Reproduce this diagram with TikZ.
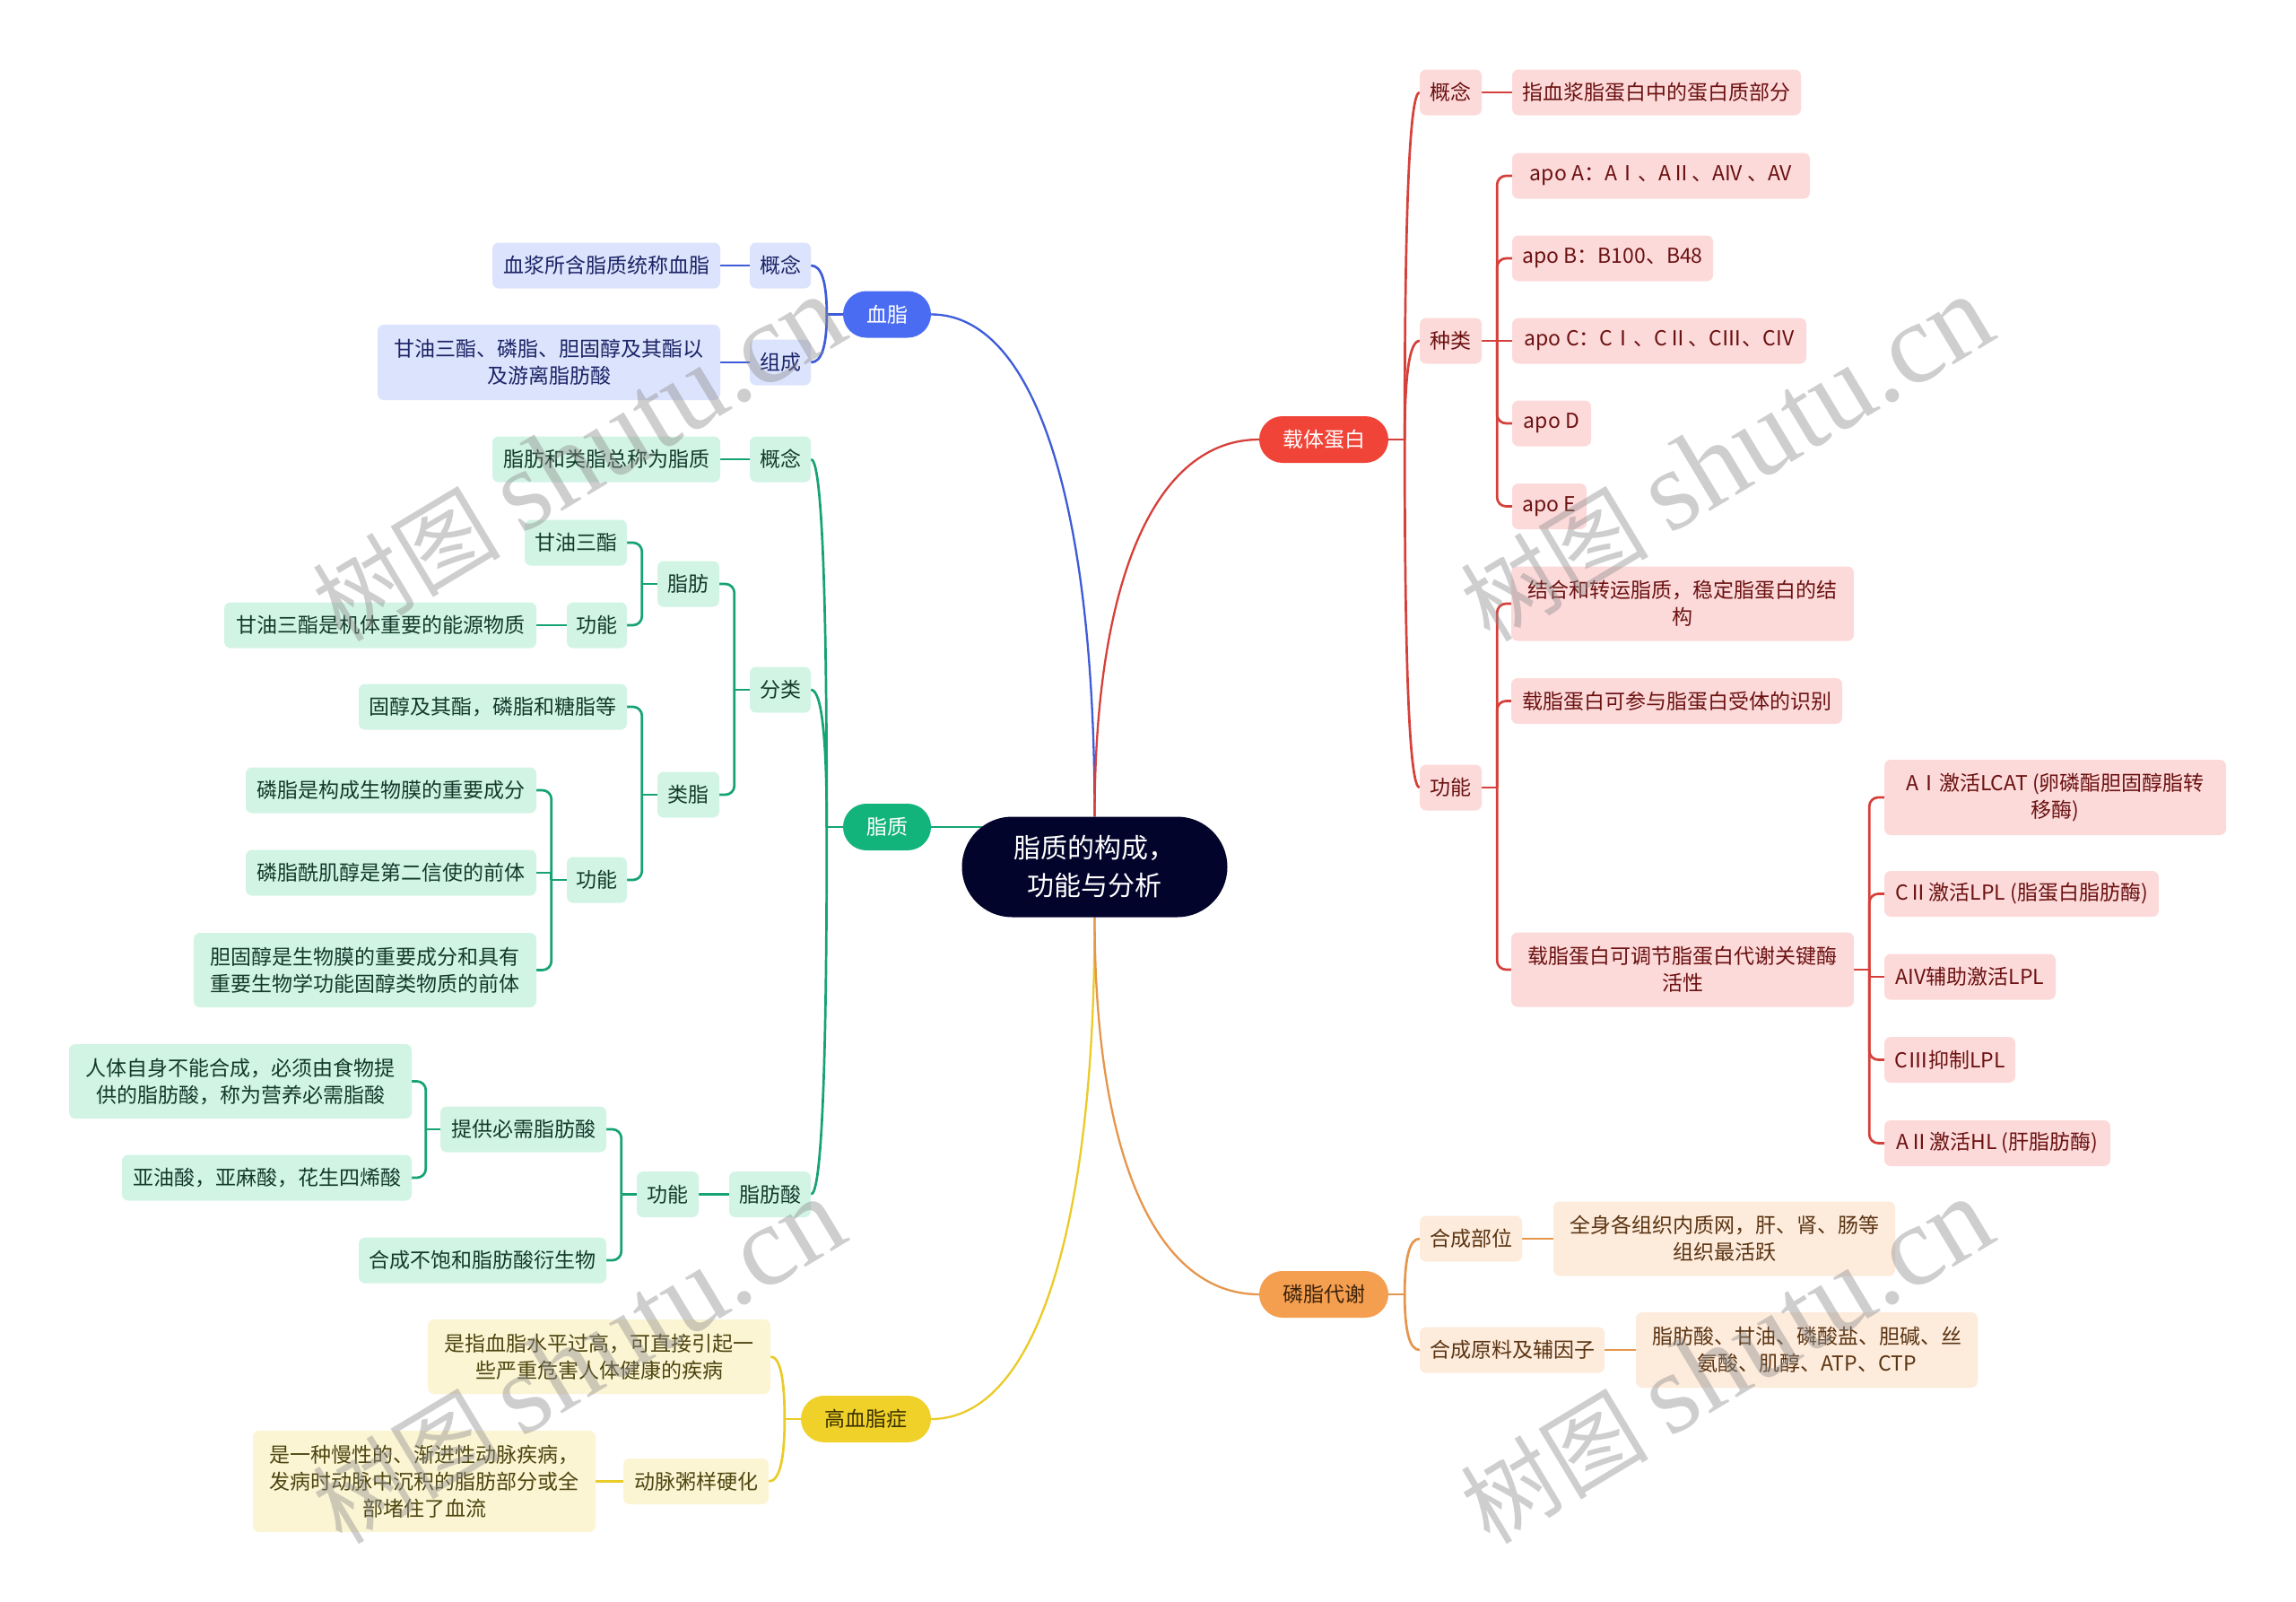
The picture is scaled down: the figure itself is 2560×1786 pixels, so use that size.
\documentclass[tikz,border=0pt]{standalone}
\usepackage{fontspec}
\setmainfont{Noto Sans CJK SC}
\newfontfamily\wmserif{Liberation Serif}
\usetikzlibrary{calc,backgrounds}
\definecolor{rootc}{HTML}{03042C}
\definecolor{bpill}{HTML}{4A6CF2}\definecolor{bline}{HTML}{3E5BD8}\definecolor{bfill}{HTML}{DCE3FC}\definecolor{btext}{HTML}{1B2466}
\definecolor{gpill}{HTML}{12B47C}\definecolor{gline}{HTML}{16A374}\definecolor{gfill}{HTML}{D2F4E5}\definecolor{gtext}{HTML}{123A2B}
\definecolor{rpill}{HTML}{F04438}\definecolor{rline}{HTML}{D6403A}\definecolor{rfill}{HTML}{FDDADA}\definecolor{rtext}{HTML}{6B1111}
\definecolor{opill}{HTML}{F49E4F}\definecolor{oline}{HTML}{E6964C}\definecolor{ofill}{HTML}{FDEBDC}\definecolor{otext}{HTML}{5A3412}\definecolor{opt}{HTML}{3D230A}
\definecolor{ypill}{HTML}{F0D12A}\definecolor{yline}{HTML}{EBCB28}\definecolor{yfill}{HTML}{FCF5D3}\definecolor{ytext}{HTML}{4D4510}\definecolor{ypt}{HTML}{3A3000}
% level-1 curve from root anchor to pill anchor
\newcommand{\Lone}[3]{\draw[lone,#3] (#1) .. controls ($(#1)!0.63!(#1 |- #2)$) and ($(#2)!0.63!(#2 -| #1)$) .. (#2);}
% level-2 curve from junction to child
\newcommand{\Ltwo}[3]{\draw[con,#3] (#1) .. controls ($(#1)!0.667!(#1 |- #2)$) and ($(#2)!0.667!(#1 |- #2)$) .. (#2);}
% level-3 bracket from junction to child
\newcommand{\Lthree}[3]{\draw[con,#3,rounded corners=10pt] (#1) |- (#2);}
\begin{document}
\begin{tikzpicture}[x=1pt,y=-1pt,
  box/.style={rounded corners=7pt, inner sep=0pt, align=center, font=\fontsize{23}{30}\selectfont, minimum height=51pt},
  bl/.style={box, fill=bfill, text=btext},
  gl/.style={box, fill=gfill, text=gtext},
  rl/.style={box, fill=rfill, text=rtext},
  ol/.style={box, fill=ofill, text=otext},
  yl/.style={box, fill=yfill, text=ytext},
  pill/.style={rounded corners=26pt, inner sep=0pt, align=center, font=\fontsize{23}{30}\selectfont, minimum height=52pt},
  rootbox/.style={fill=rootc, text=white, rounded corners=56pt, inner sep=0pt, align=center, minimum width=296pt, minimum height=112pt, font=\fontsize{30}{42}\selectfont},
  lone/.style={line width=2.3pt},
  con/.style={line width=2.7pt},
  wm/.style={rotate=31, text=black!45, opacity=0.42, inner sep=0pt, anchor=center}
]
\useasboundingbox (0,0) rectangle (2560,1786);

% ---------- root ----------
\node[rootbox] (root) at (1220.5,966.5) {脂质的构成，\\功能与分析};

% ---------- blue: 血脂 ----------
\node[pill, fill=bpill, text=white, minimum width=98pt] (xz) at (989,350.5) {血脂};
\node[bl, minimum width=68pt] (bgn) at (870,296) {概念};
\node[bl, minimum width=254pt] (bgn1) at (676,296) {血浆所含脂质统称血脂};
\node[bl, minimum width=68pt] (bzc) at (870,404) {组成};
\node[bl, minimum width=382pt, minimum height=84pt] (bzc1) at (612,404) {甘油三酯、磷脂、胆固醇及其酯以\\及游离脂肪酸};

% ---------- green: 脂质 ----------
\node[pill, fill=gpill, text=white, minimum width=98pt] (zz) at (989,922) {脂质};
\node[gl, minimum width=68pt] (ggn) at (870,512) {概念};
\node[gl, minimum width=254pt] (ggn1) at (676,512) {脂肪和类脂总称为脂质};
\node[gl, minimum width=68pt] (gfl) at (870,769) {分类};
\node[gl, minimum width=69pt] (gzf) at (767.5,651) {脂肪};
\node[gl, minimum width=114pt] (gzf1) at (642,605) {甘油三酯};
\node[gl, minimum width=67pt] (gzf2) at (665.5,697) {功能};
\node[gl, minimum width=348pt] (gzf3) at (424,697) {甘油三酯是机体重要的能源物质};
\node[gl, minimum width=69pt] (glz) at (767.5,886) {类脂};
\node[gl, minimum width=299pt] (glz1) at (549.5,788) {固醇及其酯，磷脂和糖脂等};
\node[gl, minimum width=67pt] (glz2) at (665.5,981) {功能};
\node[gl, minimum width=324pt] (glz3) at (436,881) {磷脂是构成生物膜的重要成分};
\node[gl, minimum width=324pt] (glz4) at (436,973) {磷脂酰肌醇是第二信使的前体};
\node[gl, minimum width=382pt, minimum height=83pt] (glz5) at (407,1081.5) {胆固醇是生物膜的重要成分和具有\\重要生物学功能固醇类物质的前体};
\node[gl, minimum width=91pt] (gzs) at (858.5,1331.5) {脂肪酸};
\node[gl, minimum width=69pt] (gzs1) at (744.5,1331.5) {功能};
\node[gl, minimum width=185pt] (gzs2) at (583.5,1259) {提供必需脂肪酸};
\node[gl, minimum width=382pt, minimum height=83pt] (gzs3) at (268,1205.5) {人体自身不能合成，必须由食物提\\供的脂肪酸，称为营养必需脂酸};
\node[gl, minimum width=323pt] (gzs4) at (297.5,1313) {亚油酸，亚麻酸，花生四烯酸};
\node[gl, minimum width=276pt] (gzs5) at (538,1405) {合成不饱和脂肪酸衍生物};

% ---------- yellow: 高血脂症 ----------
\node[pill, fill=ypill, text=ypt, minimum width=145pt] (gxz) at (965.5,1582) {高血脂症};
\node[yl, minimum width=382pt, minimum height=83pt] (yd1) at (668,1512.5) {是指血脂水平过高，可直接引起一\\些严重危害人体健康的疾病};
\node[yl, minimum width=162pt] (yd2) at (776,1651.5) {动脉粥样硬化};
\node[yl, minimum width=382pt, minimum height=113pt] (yd3) at (473,1651.5) {是一种慢性的、渐进性动脉疾病，\\发病时动脉中沉积的脂肪部分或全\\部堵住了血流};

% ---------- red: 载体蛋白 ----------
\node[pill, fill=rpill, text=white, minimum width=144pt] (zt) at (1476,490) {载体蛋白};
\node[rl, minimum width=69pt] (rgn) at (1617.5,103) {概念};
\node[rl, minimum width=322pt] (rgn1) at (1847,103) {指血浆脂蛋白中的蛋白质部分};
\node[rl, minimum width=69pt] (rzl) at (1617.5,380) {种类};
\node[rl, minimum width=332pt] (apoA) at (1852,196) {apo A：AⅠ、AⅡ、AIV 、AV};
\node[rl, minimum width=224pt] (apoB) at (1798,288) {apo B：B100、B48};
\node[rl, minimum width=328pt] (apoC) at (1850,380) {apo C：CⅠ、CⅡ、CⅢ、CIV};
\node[rl, minimum width=88pt] (apoD) at (1730,472) {apo D};
\node[rl, minimum width=83pt] (apoE) at (1727.5,564.5) {apo E};
\node[rl, minimum width=69pt] (rgnn) at (1617.5,878) {功能};
\node[rl, minimum width=382pt, minimum height=83pt] (rf1) at (1876,673) {结合和转运脂质，稳定脂蛋白的结\\构};
\node[rl, minimum width=369pt] (rf2) at (1869.5,781.5) {载脂蛋白可参与脂蛋白受体的识别};
\node[rl, minimum width=382pt, minimum height=83pt] (rf3) at (1876,1081) {载脂蛋白可调节脂蛋白代谢关键酶\\活性};
\node[rl, minimum width=381pt, minimum height=84pt] (re1) at (2291.5,889) {AⅠ激活LCAT (卵磷酯胆固醇脂转\\移酶)};
\node[rl, minimum width=306pt] (re2) at (2254,996.5) {CⅡ激活LPL (脂蛋白脂肪酶)};
\node[rl, minimum width=191pt] (re3) at (2196.5,1089) {AIV辅助激活LPL};
\node[rl, minimum width=146pt] (re4) at (2174,1181.5) {CⅢ抑制LPL};
\node[rl, minimum width=252pt] (re5) at (2227,1274.5) {AⅡ激活HL (肝脂肪酶)};

% ---------- orange: 磷脂代谢 ----------
\node[pill, fill=opill, text=opt, minimum width=144pt] (lz) at (1476,1443) {磷脂代谢};
\node[ol, minimum width=114pt] (oa) at (1640,1381) {合成部位};
\node[ol, minimum width=381pt, minimum height=83pt] (oa1) at (1922.5,1381) {全身各组织内质网，肝、肾、肠等\\组织最活跃};
\node[ol, minimum width=206pt] (ob) at (1686,1505) {合成原料及辅因子};
\node[ol, minimum width=381pt, minimum height=84pt] (ob1) at (2014.5,1505) {脂肪酸、甘油、磷酸盐、胆碱、丝\\氨酸、肌醇、ATP、CTP};

% ---------- junction points ----------
\coordinate (xzJ) at ($(xz.west)+(-18,0)$);
\coordinate (zzJ) at ($(zz.west)+(-18,0)$);
\coordinate (gxzJ) at ($(gxz.west)+(-18,0)$);
\coordinate (ztJ) at ($(zt.east)+(18,0)$);
\coordinate (lzJ) at ($(lz.east)+(18,0)$);
\coordinate (gflJ) at ($(gfl.west)+(-17,0)$);
\coordinate (gzfJ) at ($(gzf.west)+(-17,0)$);
\coordinate (glzJ) at ($(glz.west)+(-17,0)$);
\coordinate (glz2J) at ($(glz2.west)+(-17,0)$);
\coordinate (gzs1J) at ($(gzs1.west)+(-17,0)$);
\coordinate (gzs2J) at ($(gzs2.west)+(-16,0)$);
\coordinate (rzlJ) at ($(rzl.east)+(17,0)$);
\coordinate (rgnnJ) at ($(rgnn.east)+(17,0)$);
\coordinate (rf3J) at ($(rf3.east)+(17,0)$);

% ---------- connectors ----------
\begin{scope}[on background layer]
\fill[white] (0,0) rectangle (2560,1786);
% level 1
\Lone{root.north}{xz.east}{bline}
\Lone{root.north}{zt.west}{rline}
\Lone{root.south}{gxz.east}{yline}
\Lone{root.south}{lz.west}{oline}
\draw[lone,gline] (zz.east) -- (zz.east -| root.center);
% blue
\draw[con,bline] (xz.west) -- (xzJ);
\Ltwo{xzJ}{bgn.east}{bline}
\Ltwo{xzJ}{bzc.east}{bline}
\draw[con,bline] (bgn.west) -- (bgn1.east);
\draw[con,bline] (bzc.west) -- (bzc1.east);
% green
\draw[con,gline] (zz.west) -- (zzJ);
\Ltwo{zzJ}{ggn.east}{gline}
\Ltwo{zzJ}{gfl.east}{gline}
\Ltwo{zzJ}{gzs.east}{gline}
\draw[con,gline] (ggn.west) -- (ggn1.east);
\draw[con,gline] (gfl.west) -- (gflJ);
\Lthree{gflJ}{gzf.east}{gline}
\Lthree{gflJ}{glz.east}{gline}
\draw[con,gline] (gzf.west) -- (gzfJ);
\Lthree{gzfJ}{gzf1.east}{gline}
\Lthree{gzfJ}{gzf2.east}{gline}
\draw[con,gline] (gzf2.west) -- (gzf3.east);
\draw[con,gline] (glz.west) -- (glzJ);
\Lthree{glzJ}{glz1.east}{gline}
\Lthree{glzJ}{glz2.east}{gline}
\draw[con,gline] (glz2.west) -- (glz2J);
\Lthree{glz2J}{glz3.east}{gline}
\draw[con,gline] (glz2J) |- (glz4.east);
\Lthree{glz2J}{glz5.east}{gline}
\draw[con,gline] (gzs.west) -- (gzs1.east);
\draw[con,gline] (gzs1.west) -- (gzs1J);
\Lthree{gzs1J}{gzs2.east}{gline}
\Lthree{gzs1J}{gzs5.east}{gline}
\draw[con,gline] (gzs2.west) -- (gzs2J);
\Lthree{gzs2J}{gzs3.east}{gline}
\Lthree{gzs2J}{gzs4.east}{gline}
% yellow
\draw[con,yline] (gxz.west) -- (gxzJ);
\Ltwo{gxzJ}{yd1.east}{yline}
\Ltwo{gxzJ}{yd2.east}{yline}
\draw[con,yline] (yd2.west) -- (yd3.east);
% red
\draw[con,rline] (zt.east) -- (ztJ);
\Ltwo{ztJ}{rgn.west}{rline}
\Ltwo{ztJ}{rzl.west}{rline}
\Ltwo{ztJ}{rgnn.west}{rline}
\draw[con,rline] (rgn.east) -- (rgn1.west);
\draw[con,rline] (rzl.east) -- (rzlJ);
\Lthree{rzlJ}{apoA.west}{rline}
\Lthree{rzlJ}{apoB.west}{rline}
\draw[con,rline] (rzlJ) -- (apoC.west);
\Lthree{rzlJ}{apoD.west}{rline}
\Lthree{rzlJ}{apoE.west}{rline}
\draw[con,rline] (rgnn.east) -- (rgnnJ);
\Lthree{rgnnJ}{rf1.west}{rline}
\Lthree{rgnnJ}{rf2.west}{rline}
\Lthree{rgnnJ}{rf3.west}{rline}
\draw[con,rline] (rf3.east) -- (rf3J);
\Lthree{rf3J}{re1.west}{rline}
\Lthree{rf3J}{re2.west}{rline}
\draw[con,rline] (rf3J) |- (re3.west);
\Lthree{rf3J}{re4.west}{rline}
\Lthree{rf3J}{re5.west}{rline}
% orange
\draw[con,oline] (lz.east) -- (lzJ);
\Ltwo{lzJ}{oa.west}{oline}
\Ltwo{lzJ}{ob.west}{oline}
\draw[con,oline] (oa.east) -- (oa1.west);
\draw[con,oline] (ob.east) -- (ob1.west);
\end{scope}

% ---------- watermarks ----------
\node[wm] (wm1) at (645,512) {{\fontsize{105}{105}\selectfont 树图}\hspace{24pt}{\wmserif\fontsize{128}{128}\selectfont shutu.cn}};
\node[wm] (wm2) at (1925,512) {{\fontsize{105}{105}\selectfont 树图}\hspace{24pt}{\wmserif\fontsize{128}{128}\selectfont shutu.cn}};
\node[wm] (wm3) at (645,1518) {{\fontsize{105}{105}\selectfont 树图}\hspace{24pt}{\wmserif\fontsize{128}{128}\selectfont shutu.cn}};
\node[wm] (wm4) at (1925,1518) {{\fontsize{105}{105}\selectfont 树图}\hspace{24pt}{\wmserif\fontsize{128}{128}\selectfont shutu.cn}};
\end{tikzpicture}
\end{document}
